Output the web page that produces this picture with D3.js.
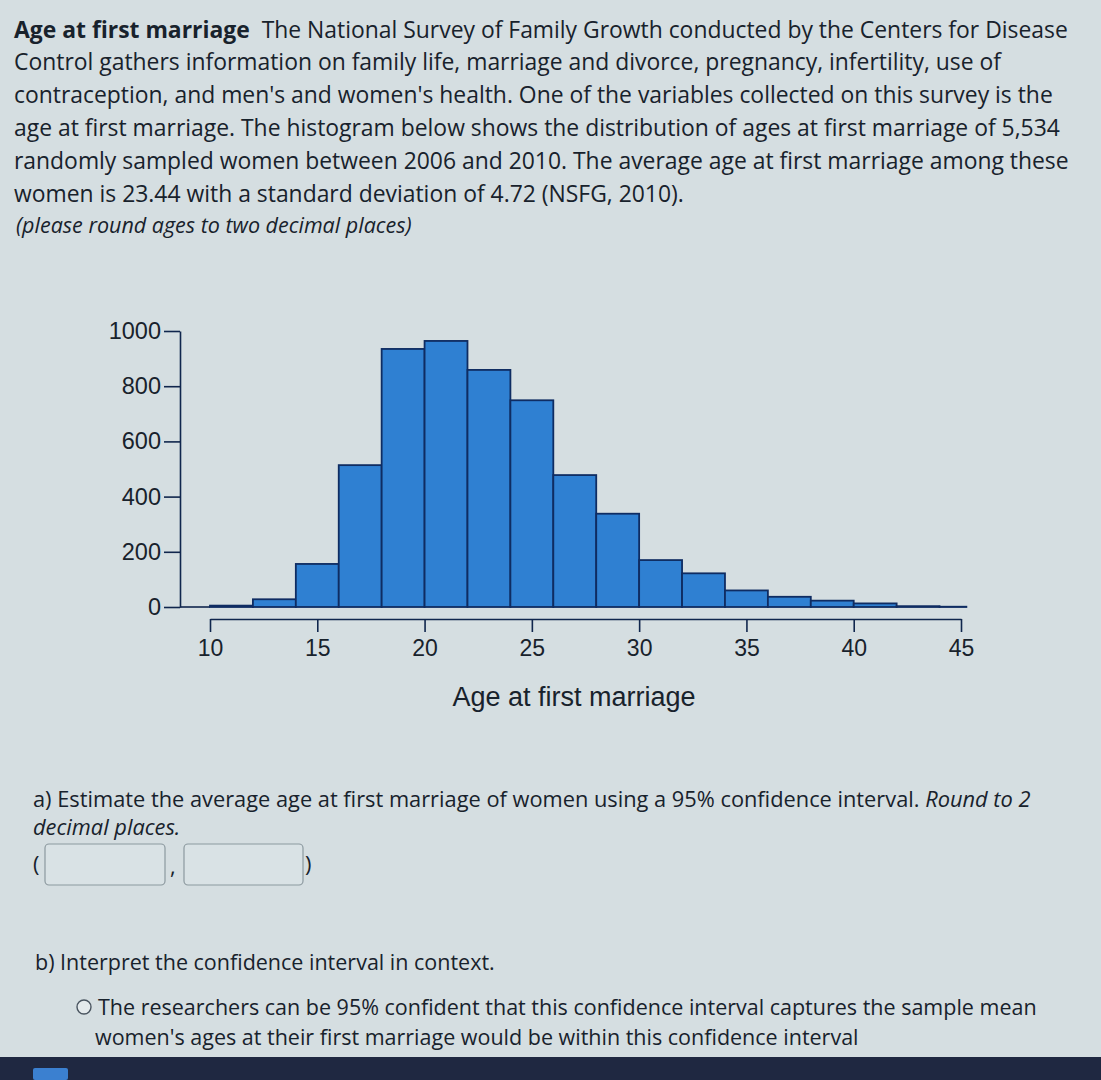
<!DOCTYPE html>
<html>
<head>
<meta charset="utf-8">
<script src="https://cdn.jsdelivr.net/npm/d3@7"></script>
<style>
  html, body { margin: 0; padding: 0; background: #d6dfe3; }
  svg { display: block; }
</style>
</head>
<body>
<svg id="page" width="1101" height="1080"></svg>
<script>
// ---- data ----
const binLower = [10, 12, 14, 16, 18, 20, 22, 24, 26, 28, 30, 32, 34, 36, 38, 40, 42, 44];
const binUpper = [12, 14, 16, 18, 20, 22, 24, 26, 28, 30, 32, 34, 36, 38, 40, 42, 44, 45.25];
const counts   = [5, 28, 156, 514, 935, 964, 859, 749, 478, 338, 170, 122, 60, 37, 23, 13, 3, 1];
const xTicks = [10, 15, 20, 25, 30, 35, 40, 45];
const yTicks = [0, 200, 400, 600, 800, 1000];
const xLabel = "Age at first marriage";

const introBold = "Age at first marriage";
const introLines = [
  " The National Survey of Family Growth conducted by the Centers for Disease",
  "Control gathers information on family life, marriage and divorce, pregnancy, infertility, use of",
  "contraception, and men's and women's health. One of the variables collected on this survey is the",
  "age at first marriage. The histogram below shows the distribution of ages at first marriage of 5,534",
  "randomly sampled women between 2006 and 2010. The average age at first marriage among these",
  "women is 23.44 with a standard deviation of 4.72 (NSFG, 2010)."
];
const introNote = "(please round ages to two decimal places)";
const qA1 = "a) Estimate the average age at first marriage of women using a 95% confidence interval. ";
const qA1i = "Round to 2";
const qA2 = "decimal places.";
const qB = "b) Interpret the confidence interval in context.";
const optLines = [
  "The researchers can be 95% confident that this confidence interval captures the sample mean",
  "women's ages at their first marriage would be within this confidence interval"
];

// ---- drawing ----
const svg = d3.select("#page");
const textCol = "#18222c";
const txtFont = "'Open Sans', 'Noto Sans', sans-serif";
const chartFont = "'Liberation Sans', Arial, sans-serif";

svg.append("rect").attr("width", 1101).attr("height", 1080).attr("fill", "#d5dee1");

// intro paragraph
const intro = svg.append("g").attr("font-family", txtFont).attr("font-size", 22.9).attr("fill", textCol);
const l0 = intro.append("text").attr("x", 14).attr("y", 38);
l0.append("tspan").attr("font-weight", "bold").text(introBold);
l0.append("tspan").text("\u00a0" + introLines[0]);
introLines.slice(1).forEach((t, i) => {
  intro.append("text").attr("x", 14).attr("y", 37 + 33 * (i + 1)).text(t);
});
intro.append("text").attr("x", 16).attr("y", 233).attr("font-size", 21.5).attr("font-style", "italic").text(introNote);

// chart
const x = d3.scaleLinear().domain([10, 45]).range([210, 961]);
const y = d3.scaleLinear().domain([0, 1000]).range([607, 331]);

const chart = svg.append("g");

// baseline from y axis to first bin
chart.append("line")
  .attr("x1", 180).attr("x2", x(binLower[0]))
  .attr("y1", y(0)).attr("y2", y(0))
  .attr("stroke", "#10264d").attr("stroke-width", 1.6);

chart.selectAll("rect.bar")
  .data(counts)
  .join("rect")
  .attr("class", "bar")
  .attr("x", (d, i) => x(binLower[i]))
  .attr("width", (d, i) => x(binUpper[i]) - x(binLower[i]))
  .attr("y", d => y(d))
  .attr("height", d => y(0) - y(d))
  .attr("fill", "#2f80d2")
  .attr("stroke", "#0f2c62")
  .attr("stroke-width", 1.8);

// y axis
const yAxis = chart.append("g")
  .attr("transform", "translate(180,0)")
  .call(d3.axisLeft(y).tickValues(yTicks).tickSize(16).tickSizeOuter(0).tickPadding(3).tickFormat(d3.format("d")));
yAxis.select(".domain").attr("stroke", "#10264d").attr("stroke-width", 1.6);
yAxis.selectAll(".tick line").attr("stroke", "#10264d").attr("stroke-width", 1.6);
yAxis.selectAll(".tick text").attr("font-family", chartFont).attr("font-size", 23.5).attr("fill", textCol);

// x axis (offset below the bars)
const xAxis = chart.append("g")
  .attr("transform", "translate(0,619)")
  .call(d3.axisBottom(x).tickValues(xTicks).tickSize(13).tickSizeOuter(0).tickPadding(8).tickFormat(d3.format("d")));
xAxis.select(".domain").attr("stroke", "#10264d").attr("stroke-width", 1.6);
xAxis.selectAll(".tick line").attr("stroke", "#10264d").attr("stroke-width", 1.6);
xAxis.selectAll(".tick text").attr("font-family", chartFont).attr("font-size", 23).attr("fill", textCol);

chart.append("text")
  .attr("x", 574).attr("y", 706)
  .attr("text-anchor", "middle")
  .attr("font-family", chartFont).attr("font-size", 27).attr("fill", textCol)
  .text(xLabel);

// question a
const qa = svg.append("g").attr("font-family", txtFont).attr("font-size", 21.8).attr("fill", textCol);
const a1 = qa.append("text").attr("x", 33).attr("y", 807);
a1.append("tspan").text(qA1);
a1.append("tspan").attr("font-style", "italic").text(qA1i);
qa.append("text").attr("x", 33).attr("y", 835).attr("font-style", "italic").text(qA2);
qa.append("text").attr("x", 33).attr("y", 872).text("(");
qa.append("text").attr("x", 170).attr("y", 874).text(",");
qa.append("text").attr("x", 305).attr("y", 872).text(")");
[[45, 165], [184, 303]].forEach(([a, b]) => {
  qa.append("rect").attr("x", a).attr("y", 844).attr("width", b - a).attr("height", 41)
    .attr("rx", 4).attr("fill", "#d9e2e5").attr("stroke", "#8c999f").attr("stroke-width", 1.2);
});

// question b
const qb = svg.append("g").attr("font-family", txtFont).attr("font-size", 21.5).attr("fill", textCol);
qb.append("text").attr("x", 35).attr("y", 970).text(qB);
qb.append("circle").attr("cx", 84).attr("cy", 1007).attr("r", 7)
  .attr("fill", "#e4eaec").attr("stroke", "#4a5560").attr("stroke-width", 1.4);
qb.append("text").attr("x", 98).attr("y", 1015).text(optLines[0]);
qb.append("text").attr("x", 95).attr("y", 1045).text(optLines[1]);

// bottom dark strip (screen taskbar)
svg.append("rect").attr("x", 0).attr("y", 1057).attr("width", 1101).attr("height", 23).attr("fill", "#1f2841");
svg.append("rect").attr("x", 33).attr("y", 1068).attr("width", 35).attr("height", 12).attr("rx", 2).attr("fill", "#3b80d0");
</script>
</body>
</html>
